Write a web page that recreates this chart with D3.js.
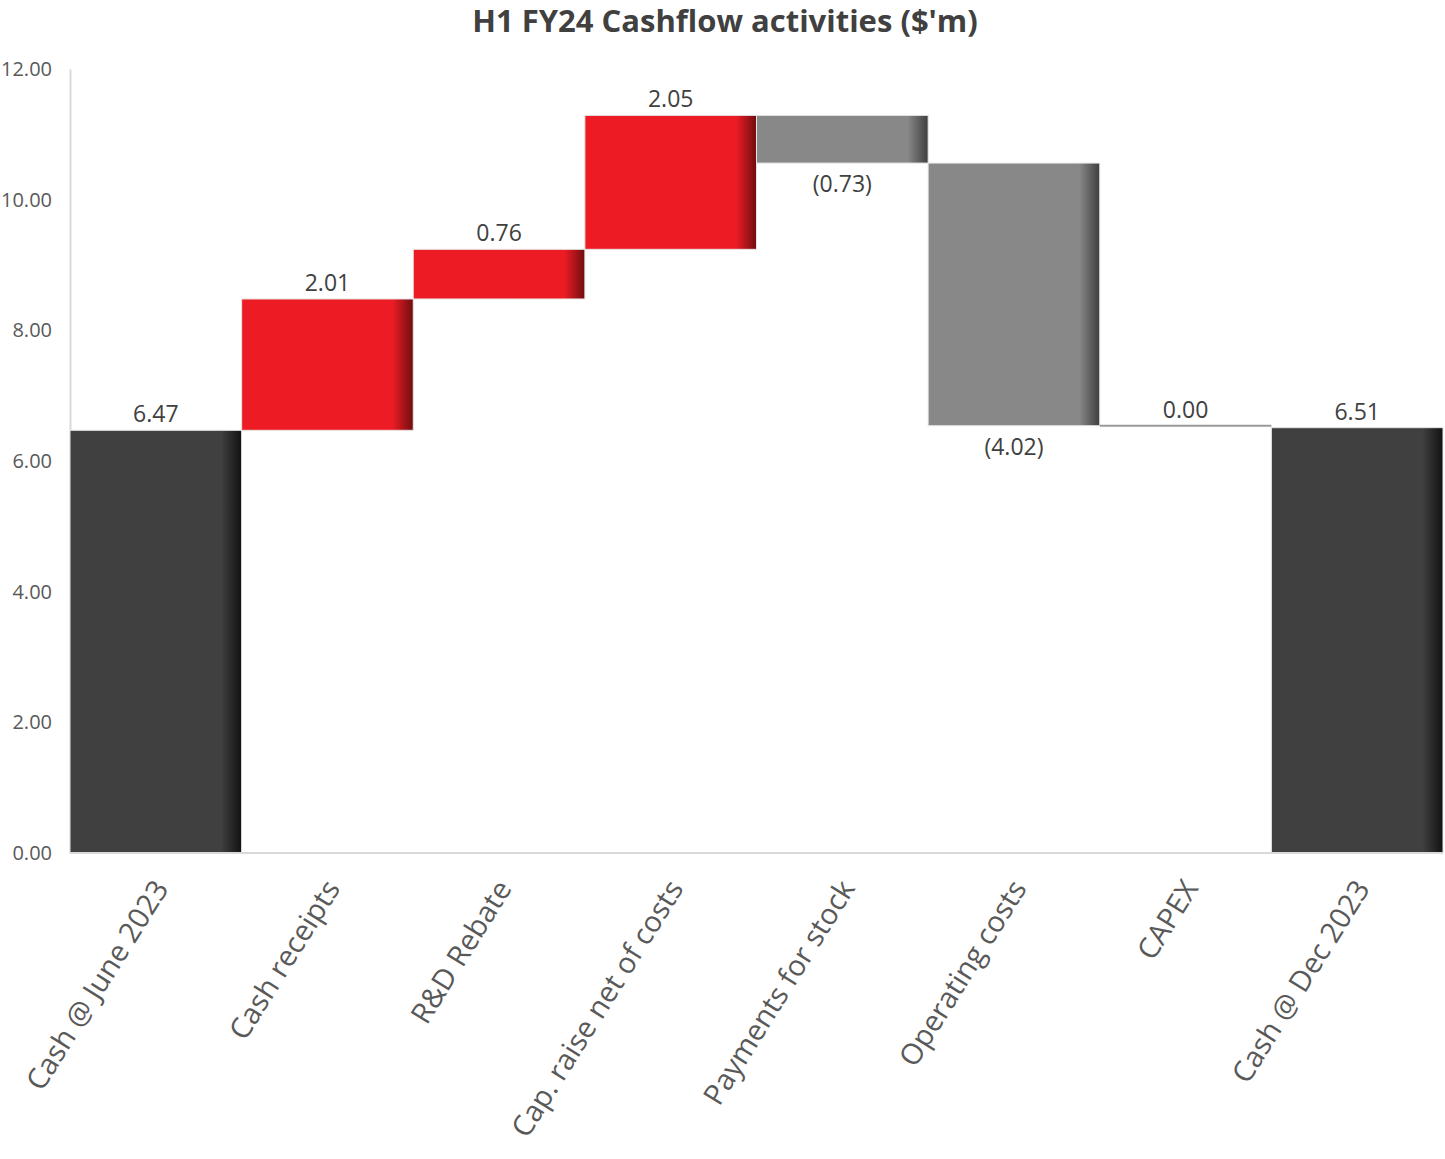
<!DOCTYPE html>
<html>
<head>
<meta charset="utf-8">
<script src="https://cdn.jsdelivr.net/npm/d3@7"></script>
<style>
  body { margin: 0; background: #fff; }
  #chart { width: 1445px; height: 1159px; }
</style>
</head>
<body>
<div id="chart"></div>
<script>
// Data
const categories = ["Cash @ June 2023", "Cash receipts", "R&D Rebate", "Cap. raise net of costs",
  "Payments for stock", "Operating costs", "CAPEX", "Cash @ Dec 2023"];
const values = [6.47, 2.01, 0.76, 2.05, -0.73, -4.02, 0.00, 6.51];
const kinds = ["total", "step", "step", "step", "step", "step", "step", "total"];
const yTicks = [0, 2, 4, 6, 8, 10, 12];

const width = 1445;
const height = 1159;
const margin = { top: 69, right: 2, bottom: 306, left: 70 };

const svg = d3.select("#chart").append("svg")
  .attr("width", width)
  .attr("height", height)
  .style("font-family", "'Open Sans', 'Noto Sans', sans-serif");

// build waterfall rows
let running = 0;
const rows = categories.map((c, i) => {
  let start, end;
  if (kinds[i] === "total") { start = 0; end = values[i]; running = values[i]; }
  else { start = running; end = running + values[i]; running = end; }
  return { name: c, value: values[i], kind: kinds[i], start, end };
});

const x = d3.scaleBand().domain(categories)
  .range([margin.left, width - margin.right]).padding(0);
const y = d3.scaleLinear().domain([0, 12])
  .range([height - margin.bottom, margin.top]);

// gradients (darker right edge)
const defs = svg.append("defs");
const grads = { dark: ["#404040", "#111111"], red: ["#ED1C24", "#6e0d10"], grey: ["#888888", "#3f3f3f"] };
Object.entries(grads).forEach(([k, [base, edge]]) => {
  const g = defs.append("linearGradient").attr("id", "g-" + k)
    .attr("x1", 0).attr("x2", 1).attr("y1", 0).attr("y2", 0);
  g.append("stop").attr("offset", "0%").attr("stop-color", base);
  g.append("stop").attr("offset", "88%").attr("stop-color", base);
  g.append("stop").attr("offset", "100%").attr("stop-color", edge);
});
const colorKey = (d) => d.kind === "total" ? "dark" : (d.value > 0 ? "red" : "grey");

// title
svg.append("text")
  .attr("x", 725).attr("y", 32)
  .attr("text-anchor", "middle")
  .attr("font-size", 31).attr("font-weight", "bold")
  .attr("fill", "#404040")
  .text("H1 FY24 Cashflow activities ($'m)");

// y axis
const yAxis = svg.append("g")
  .attr("transform", `translate(${margin.left},0)`)
  .call(d3.axisLeft(y).tickValues(yTicks).tickFormat(d3.format(".2f")).tickSize(0).tickPadding(18));
yAxis.select(".domain").attr("stroke", "#d9d9d9").attr("stroke-width", 2);
yAxis.selectAll(".tick text").attr("font-size", 20).attr("fill", "#595959")
  .attr("font-family", "'Open Sans', 'Noto Sans', sans-serif");

// bars
svg.selectAll("rect.bar")
  .data(rows.filter(d => d.value !== 0))
  .enter().append("rect")
  .attr("class", "bar")
  .attr("x", d => x(d.name))
  .attr("width", x.bandwidth())
  .attr("y", d => y(Math.max(d.start, d.end)))
  .attr("height", d => Math.abs(y(d.start) - y(d.end)))
  .attr("fill", d => `url(#g-${colorKey(d)})`)
  .attr("stroke", "#e6e6e6").attr("stroke-width", 1);

// zero-value step drawn as a thin line
svg.selectAll("line.zero")
  .data(rows.filter(d => d.value === 0))
  .enter().append("line")
  .attr("x1", d => x(d.name)).attr("x2", d => x(d.name) + x.bandwidth())
  .attr("y1", d => y(d.end)).attr("y2", d => y(d.end))
  .attr("stroke", "#9a9a9a").attr("stroke-width", 2);

// x axis line
svg.append("line")
  .attr("x1", margin.left).attr("x2", width - margin.right)
  .attr("y1", y(0)).attr("y2", y(0))
  .attr("stroke", "#d9d9d9").attr("stroke-width", 2);

// value labels
const fmt = (v) => v < 0 ? `(${d3.format(".2f")(-v)})` : d3.format(".2f")(v);
svg.selectAll("text.val")
  .data(rows)
  .enter().append("text")
  .attr("class", "val")
  .attr("x", d => x(d.name) + x.bandwidth() / 2)
  .attr("y", d => d.value < 0 ? y(d.end) + 29 : y(Math.max(d.start, d.end)) - 8)
  .attr("text-anchor", "middle")
  .attr("font-size", 23)
  .attr("fill", "#404040")
  .text(d => fmt(d.value));

// category labels
svg.selectAll("text.cat")
  .data(categories)
  .enter().append("text")
  .attr("class", "cat")
  .attr("transform", d => `translate(${x(d) + x.bandwidth() / 2 + 5},${y(0) + 30}) rotate(-58)`)
  .attr("text-anchor", "end")
  .attr("dy", "0.35em")
  .attr("font-size", 29)
  .attr("fill", "#595959")
  .text(d => d);
</script>
</body>
</html>
